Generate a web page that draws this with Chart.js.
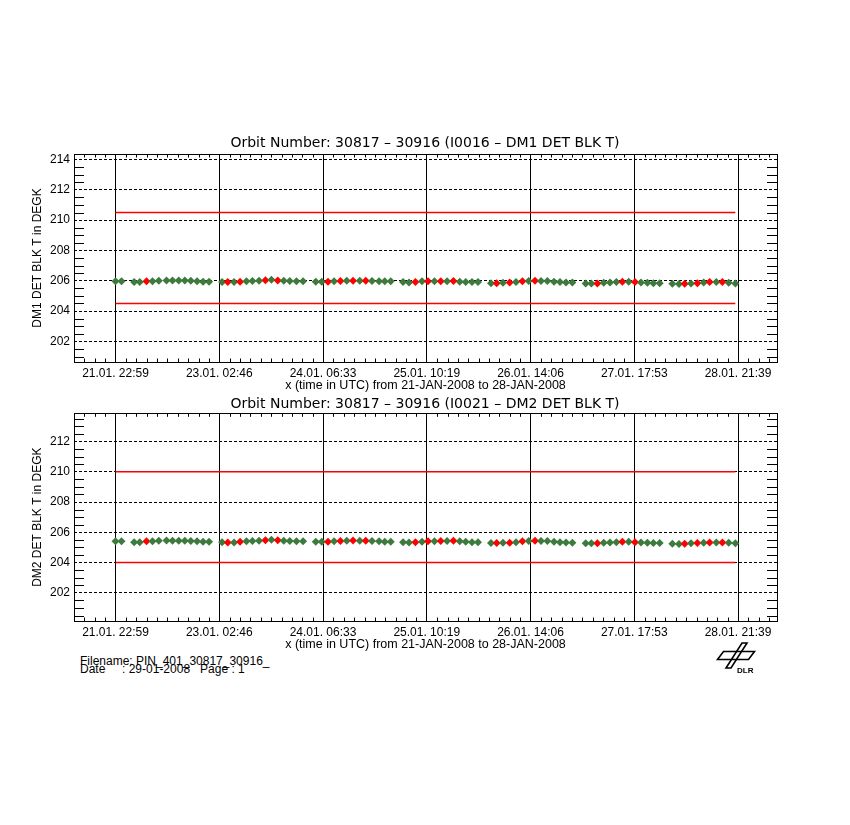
<!DOCTYPE html>
<html>
<head>
<meta charset="utf-8">
<script src="https://cdn.jsdelivr.net/npm/chart.js@4/dist/chart.umd.min.js"></script>
<style>
  body { margin: 0; background: #fff; width: 850px; height: 825px; position: relative; overflow: hidden; }
  canvas { position: absolute; left: 0; }
  #dm1 { top: 128px; }
  #dm2 { top: 394px; }
  .foot { position: absolute; left: 80px; font: 12px "Liberation Sans"; white-space: pre; line-height: 8px; color: #000; }
  #logo { position: absolute; left: 715px; top: 640px; }
</style>
</head>
<body>
<canvas id="dm1" width="850" height="266"></canvas>
<canvas id="dm2" width="850" height="259"></canvas>
<div class="foot" style="top:657px">Filename: PIN_401_30817_30916_</div>
<div class="foot" style="top:665px">Date     : 29-01-2008   Page : 1</div>
<svg id="logo" width="44" height="36" viewBox="0 0 44 36">
  <polygon points="8.5,11.5 39.5,11.5 33.5,19.5 2.5,19.5" fill="none" stroke="#000" stroke-width="1.6"/>
  <polygon points="27,3 32,3 16,28 11,28" fill="none" stroke="#000" stroke-width="1.6"/>
  <text x="22" y="33" font-family="Liberation Sans" font-weight="bold" font-size="8">DLR</text>
</svg>
<script>
// hours after 21.01. 22:59 (UTC)
const orbitHours = [
  0, 1.61, 4.98, 6.50, 8.30, 9.90, 11.59, 13.65, 15.26, 16.94, 18.55, 20.16, 21.84, 23.45, 25.05,
  28.53, 30.06, 31.74, 33.35, 35.06, 36.67, 38.44, 40.15, 41.75, 43.44, 45.05, 46.65, 48.45, 50.21,
  53.61, 55.22, 56.90, 58.51, 60.22, 61.91, 63.60, 65.39, 67.00, 68.68, 70.56, 72.08, 73.69,
  76.98, 78.58, 80.30, 82.06, 83.67, 85.38, 87.07, 88.76, 90.47, 92.16, 93.76, 95.45, 97.05,
  100.53, 102.06, 103.74, 105.54, 107.23, 108.94, 110.62, 112.31, 113.92, 115.63, 117.40, 119.00, 120.61, 122.32,
  125.88, 127.41, 129.01, 130.70, 132.39, 134.10, 135.71, 137.40, 139.08, 140.69, 142.40, 144.00, 145.69,
  149.09, 150.86, 152.38, 154.07, 155.78, 157.47, 159.07, 160.86, 162.47, 164.16, 165.95
];

const dm1Temp = [
  205.96, 205.96, 205.91, 205.91, 205.96, 205.96, 206.00, 206.02, 206.02, 206.02, 206.02, 206.00, 205.96, 205.93, 205.93,
  205.91, 205.91, 205.91, 205.93, 205.96, 205.98, 206.00, 206.04, 206.07, 206.02, 206.00, 205.98, 205.96, 205.96,
  205.93, 205.93, 205.93, 205.96, 205.98, 206.00, 206.00, 206.00, 206.00, 205.98, 205.96, 205.96, 205.96,
  205.91, 205.89, 205.91, 205.96, 205.96, 205.96, 205.96, 205.96, 205.98, 205.93, 205.91, 205.91, 205.91,
  205.84, 205.84, 205.87, 205.89, 205.91, 205.96, 205.98, 206.00, 205.98, 205.98, 205.93, 205.91, 205.89, 205.89,
  205.82, 205.82, 205.82, 205.87, 205.89, 205.91, 205.93, 205.93, 205.91, 205.89, 205.87, 205.84, 205.84,
  205.80, 205.78, 205.80, 205.82, 205.84, 205.89, 205.91, 205.91, 205.91, 205.87, 205.82
];

const dm2Temp = [
  205.40, 205.40, 205.35, 205.35, 205.40, 205.40, 205.44, 205.46, 205.44, 205.44, 205.44, 205.42, 205.40, 205.38, 205.38,
  205.35, 205.33, 205.33, 205.38, 205.40, 205.42, 205.44, 205.48, 205.51, 205.48, 205.44, 205.42, 205.40, 205.40,
  205.38, 205.38, 205.38, 205.40, 205.42, 205.44, 205.46, 205.44, 205.44, 205.42, 205.40, 205.38, 205.38,
  205.35, 205.33, 205.35, 205.38, 205.40, 205.40, 205.42, 205.42, 205.44, 205.40, 205.38, 205.35, 205.35,
  205.29, 205.29, 205.31, 205.31, 205.35, 205.40, 205.42, 205.44, 205.42, 205.42, 205.38, 205.35, 205.33, 205.31,
  205.27, 205.27, 205.27, 205.31, 205.33, 205.35, 205.38, 205.38, 205.35, 205.33, 205.31, 205.29, 205.29,
  205.25, 205.23, 205.25, 205.27, 205.29, 205.31, 205.33, 205.33, 205.33, 205.31, 205.27
];

// 1 = drawn red
const flagged = [
  0, 0, 0, 0, 1, 0, 0, 0, 0, 0, 0, 0, 0, 0, 0,
  0, 1, 0, 1, 0, 0, 0, 1, 0, 1, 0, 0, 0, 0,
  0, 0, 1, 0, 1, 0, 1, 0, 1, 0, 0, 0, 0,
  0, 0, 1, 0, 1, 0, 1, 0, 1, 0, 0, 0, 0,
  0, 1, 0, 1, 0, 1, 0, 1, 0, 0, 0, 0, 0, 0,
  0, 0, 1, 0, 0, 0, 1, 0, 1, 0, 0, 0, 0,
  0, 0, 1, 0, 1, 0, 1, 0, 1, 0, 0
];

const tickHours = [0, 27.78, 55.56, 83.33, 111.11, 138.89, 166.67];
const tickLabels = ['21.01. 22:59', '23.01. 02:46', '24.01. 06:33', '25.01. 10:19', '26.01. 14:06', '27.01. 17:53', '28.01. 21:39'];
const xRange = [-11.11, 177.1];
const yTicks = [202, 204, 206, 208, 210, 212, 214];

const dm1Limits = [204.5, 210.5];
const dm2Limits = [204, 210];
const dm1Range = [200.64, 214.36];
const dm2Range = [200.14, 213.86];

Chart.defaults.font.family = 'Liberation Sans';
Chart.defaults.font.size = 12;
Chart.defaults.color = '#000';

// frame + small inward ticks like the IDL plots
const idlFrame = {
  id: 'idlFrame',
  beforeDatasetsDraw(chart) {
    const { ctx, chartArea: a, scales: { x, y } } = chart;
    ctx.save();
    ctx.strokeStyle = '#000';
    ctx.lineWidth = 1;
    ctx.beginPath();
    for (let v = Math.ceil(y.min * 2) / 2; v <= y.max; v += 0.5) {
      if (v % 2 === 0) continue;
      const py = Math.round(y.getPixelForValue(v)) + 0.5;
      ctx.moveTo(a.left, py); ctx.lineTo(a.left + 10, py);
      ctx.moveTo(a.right, py); ctx.lineTo(a.right - 10, py);
    }
    const step = (tickHours[1] - tickHours[0]) / 10;
    for (let k = Math.ceil(x.min / step); k * step <= x.max; k++) {
      if (k % 10 === 0) continue;
      const px = Math.round(x.getPixelForValue(k * step)) + 0.5;
      ctx.moveTo(px, a.top); ctx.lineTo(px, a.top + 3.5);
      ctx.moveTo(px, a.bottom); ctx.lineTo(px, a.bottom - 3.5);
    }
    ctx.stroke();
    ctx.strokeRect(Math.round(a.left) + 0.5, Math.round(a.top) + 0.5,
      Math.round(a.right - a.left), Math.round(a.bottom - a.top));
    ctx.restore();
  }
};

function buildChart(id, title, yTitle, temps, limits, range, titlePad) {
  const points = {
    data: orbitHours.map((h, i) => ({ x: h, y: temps[i] })),
    pointStyle: 'rectRot',
    pointRadius: 4,
    pointBorderWidth: 0,
    pointBackgroundColor: flagged.map(f => f ? '#ff0000' : '#3d7a3d'),
    showLine: false
  };
  const limitLines = limits.map(v => ({
    data: [{ x: orbitHours[0], y: v }, { x: orbitHours[orbitHours.length - 1], y: v }],
    borderColor: '#ff0000',
    backgroundColor: '#ff0000',
    borderWidth: 1.5,
    pointRadius: 0,
    showLine: true
  }));

  return new Chart(document.getElementById(id), {
    type: 'scatter',
    data: { datasets: [points, ...limitLines] },
    options: {
      responsive: false,
      animation: false,
      devicePixelRatio: 1,
      layout: { padding: 0 },
      plugins: {
        legend: { display: false },
        tooltip: { enabled: false },
        title: {
          display: true,
          text: title,
          font: { family: 'DejaVu Sans', size: 14, weight: 'normal' },
          color: '#000',
          padding: titlePad
        }
      },
      scales: {
        x: {
          type: 'linear',
          min: xRange[0],
          max: xRange[1],
          afterBuildTicks: s => { s.ticks = tickHours.map(v => ({ value: v })); },
          afterFit: s => { s.height = 32; },
          ticks: {
            autoSkip: false,
            maxRotation: 0,
            padding: 4,
            callback: (v, i) => tickLabels[i]
          },
          grid: { color: '#000', lineWidth: 1, drawTicks: false },
          border: { display: false },
          title: {
            display: true,
            text: 'x (time in UTC) from 21-JAN-2008 to 28-JAN-2008',
            font: { size: 12.5 },
            padding: { top: 0, bottom: 1 }
          }
        },
        y: {
          type: 'linear',
          position: 'left',
          min: range[0],
          max: range[1],
          afterBuildTicks: s => {
            s.ticks = yTicks.filter(v => v >= s.min && v <= s.max).map(v => ({ value: v }));
          },
          afterFit: s => { s.width = 74; },
          ticks: { padding: 4 },
          grid: { color: '#000', lineWidth: 1, drawTicks: false },
          border: { display: false, dash: [3, 2] },
          title: {
            display: true,
            text: yTitle,
            padding: { top: 30, bottom: 0 }
          }
        },
        // empty right-hand axis only reserves the margin so the title stays centred on the page
        margin: {
          type: 'linear',
          position: 'right',
          afterFit: s => { s.width = 73; },
          ticks: { display: false },
          grid: { display: false },
          border: { display: false }
        }
      }
    },
    plugins: [idlFrame]
  });
}

buildChart('dm1', 'Orbit Number: 30817 \u2013 30916 (I0016 \u2013 DM1 DET BLK T)', 'DM1 DET BLK T in DEGK',
  dm1Temp, dm1Limits, dm1Range, { top: 7, bottom: 2.2 });
buildChart('dm2', 'Orbit Number: 30817 \u2013 30916 (I0021 \u2013 DM2 DET BLK T)', 'DM2 DET BLK T in DEGK',
  dm2Temp, dm2Limits, dm2Range, { top: 2, bottom: 0.5 });
</script>
</body>
</html>
